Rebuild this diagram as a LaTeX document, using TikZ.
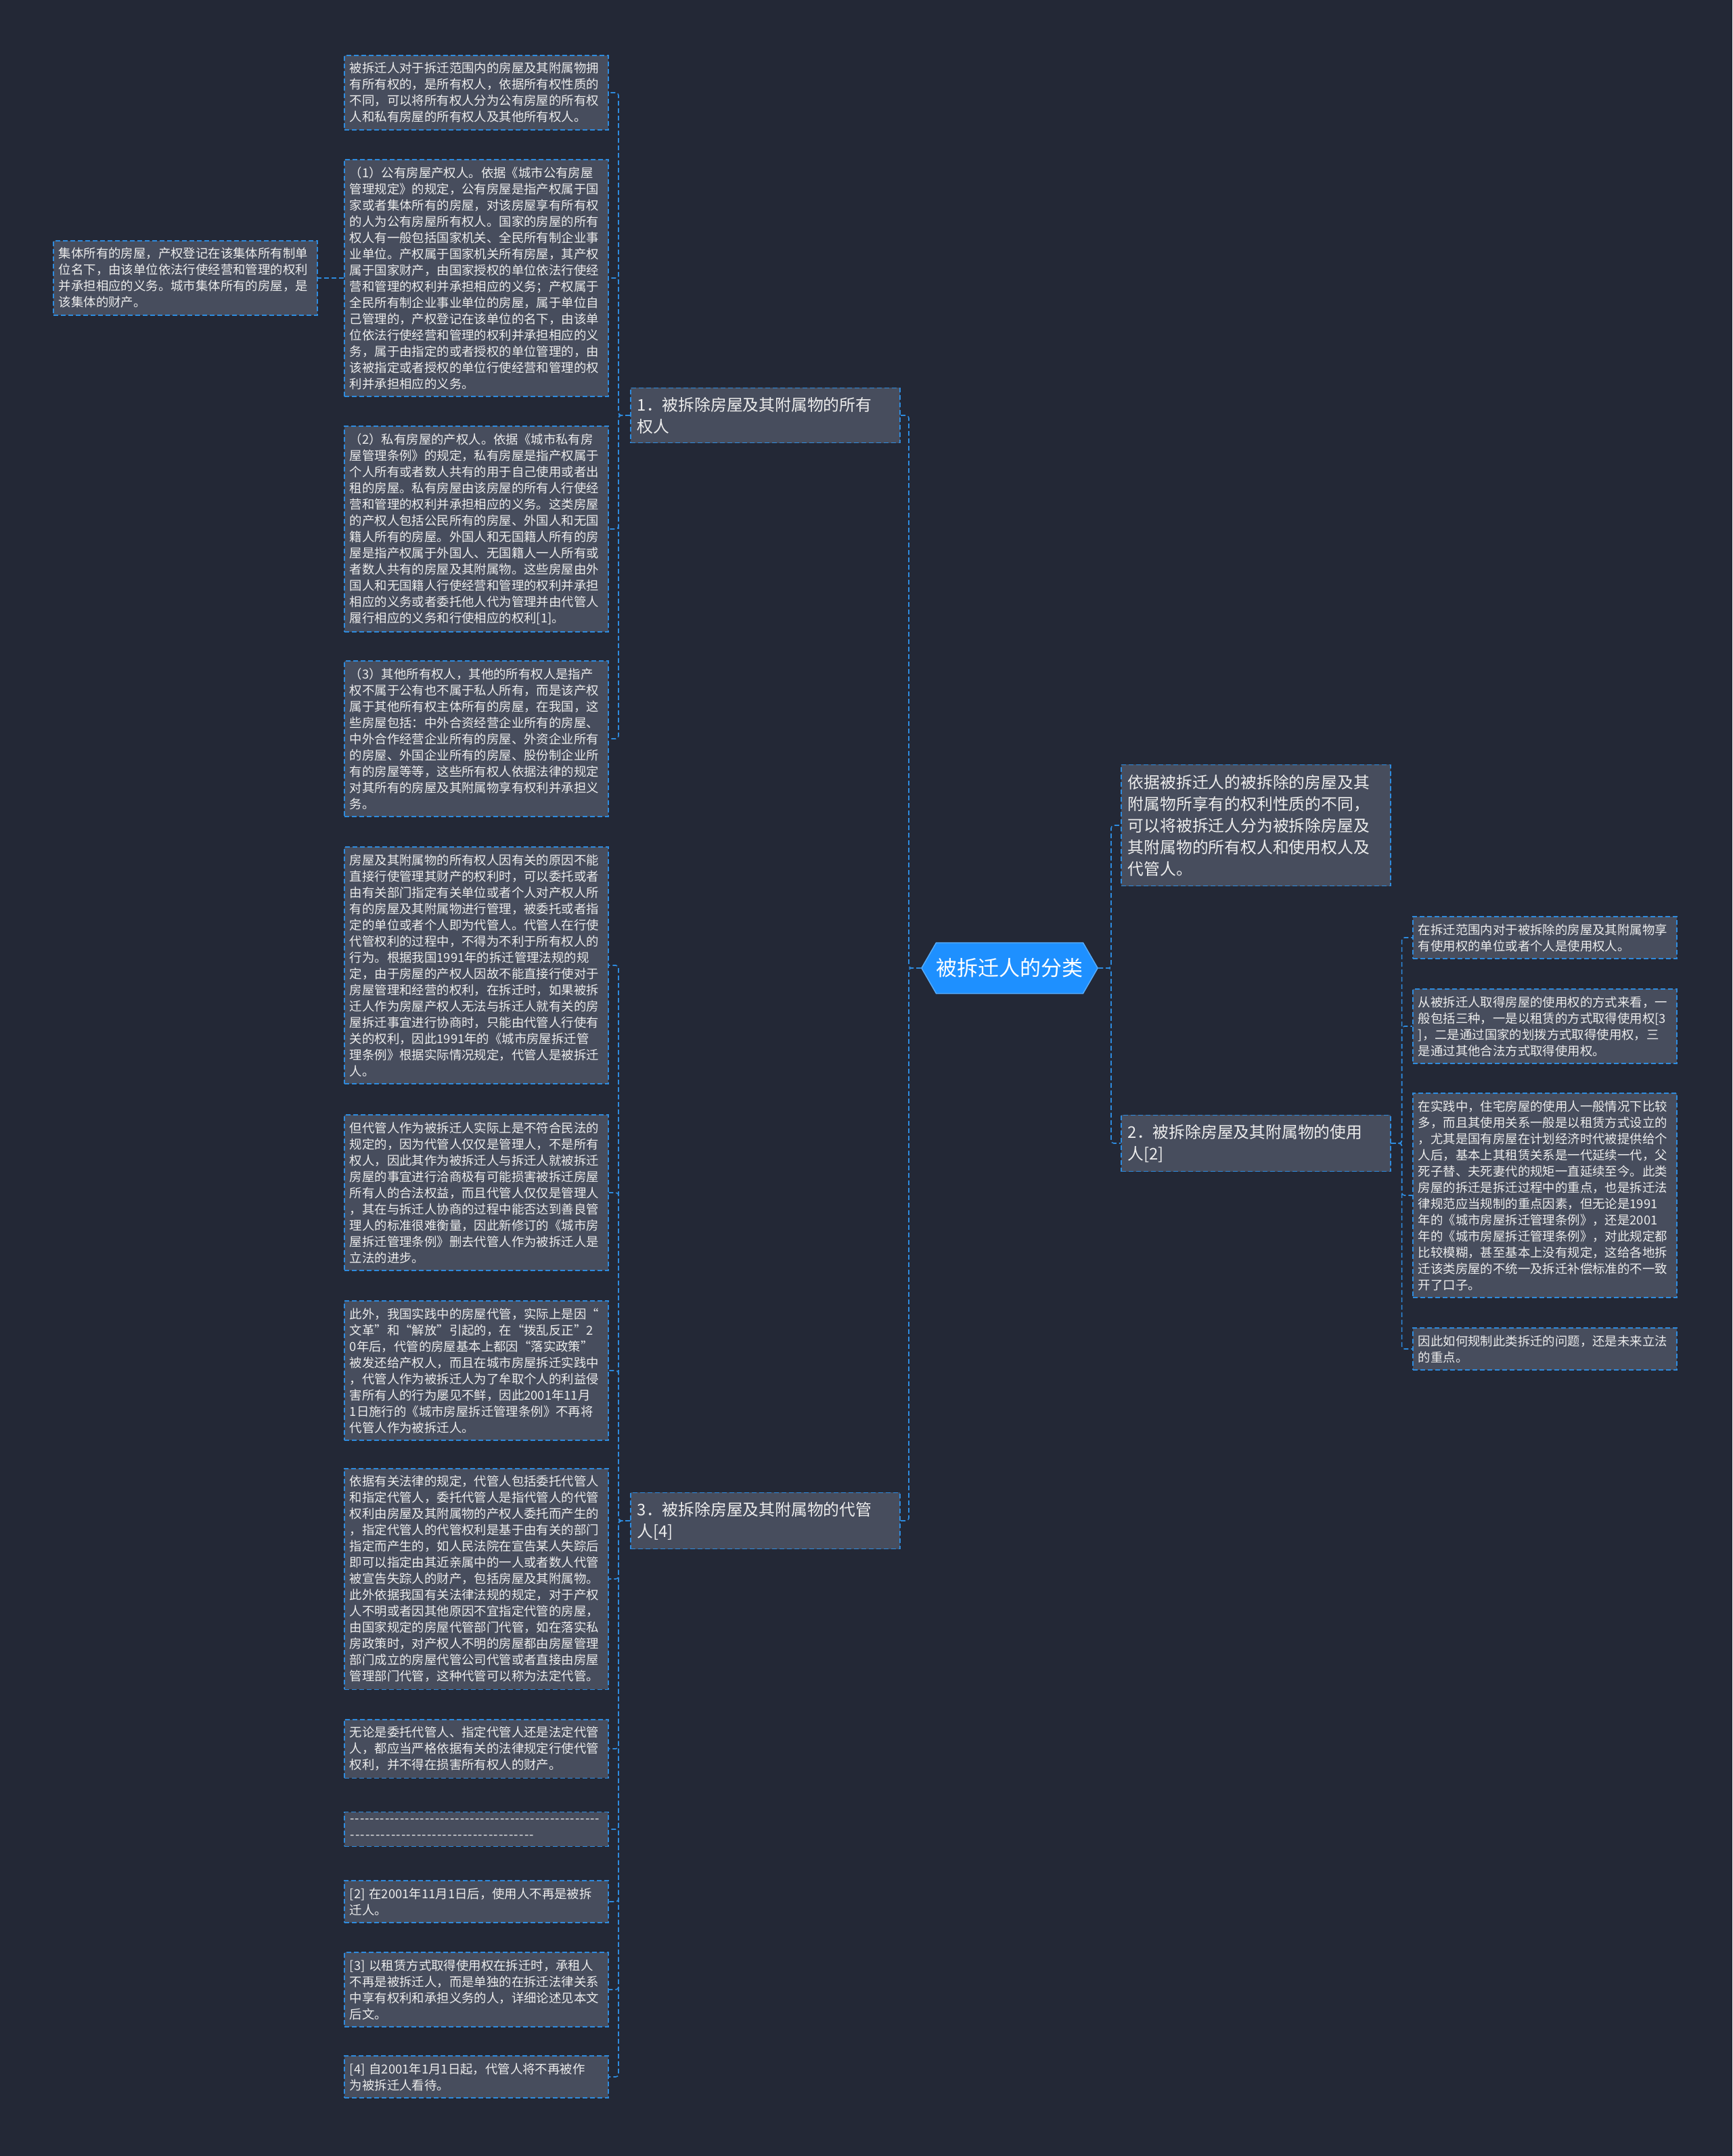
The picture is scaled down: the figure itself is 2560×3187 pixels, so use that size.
\documentclass[tikz,border=0pt]{standalone}
\usepackage{fontspec}
\setmainfont{Noto Sans CJK SC}
\usetikzlibrary{shapes.symbols}
\definecolor{bgnavy}{RGB}{35,40,54}
\definecolor{boxgray}{RGB}{71,77,93}
\definecolor{linkblue}{RGB}{46,139,222}
\definecolor{rootblue}{RGB}{30,144,255}
\definecolor{txtwhite}{RGB}{236,236,236}
\newcommand{\dashline}[1]{\hbox to #1{\xleaders\hbox to 7.4pt{\hss-\hss}\hfill}}
\begin{document}
\begin{tikzpicture}[x=1pt,y=-1pt,
    leaf/.style={draw=linkblue, dash pattern=on 7pt off 4pt, line width=1.6pt, fill=boxgray, text=txtwhite,
        anchor=west, align=left, text width=374pt, inner xsep=8pt, inner ysep=10.5pt, font=\fontsize{18.4}{24}\selectfont},
    topic/.style={draw=linkblue, dash pattern=on 7pt off 4pt, line width=1.6pt, fill=boxgray, text=txtwhite,
        anchor=west, align=left, text width=378pt, inner xsep=10pt, inner ysep=13.5pt, font=\fontsize{23.8}{32}\selectfont},
    root/.style={shape=signal, signal to=west and east, signal pointer angle=120, fill=rootblue, draw=rootblue!75!white,
        line width=1.5pt, text=white, minimum width=254pt, minimum height=75pt, inner sep=0pt, font=\fontsize{31}{36}\selectfont},
    link/.style={draw=linkblue, dash pattern=on 7pt off 4pt, line width=1.6pt, rounded corners=4pt}]
    \path[use as bounding box, fill=bgnavy] (0,0) rectangle (2560,3187);

    \node[root] (root) at (1492,1431) {被拆迁人的分类};

    \node[topic] (owner) at (931,614) {1．被拆除房屋及其附属物的所有\\权人};
    \node[topic] (agent) at (931,2248) {3．被拆除房屋及其附属物的代管\\人[4]};
    \node[topic, inner ysep=14.5pt] (basis) at (1656,1220) {依据被拆迁人的被拆除的房屋及其\\附属物所享有的权利性质的不同，\\可以将被拆迁人分为被拆除房屋及\\其附属物的所有权人和使用权人及\\代管人。};
    \node[topic] (user) at (1656,1690) {2．被拆除房屋及其附属物的使用\\人[2]};

    \node[leaf] (o1) at (508,137) {被拆迁人对于拆迁范围内的房屋及其附属物拥\\
        有所有权的，是所有权人，依据所有权性质的\\
        不同，可以将所有权人分为公有房屋的所有权\\
        人和私有房屋的所有权人及其他所有权人。};
    \node[leaf] (o2) at (508,411) {（1）公有房屋产权人。依据《城市公有房屋\\
        管理规定》的规定，公有房屋是指产权属于国\\
        家或者集体所有的房屋，对该房屋享有所有权\\
        的人为公有房屋所有权人。国家的房屋的所有\\
        权人有一般包括国家机关、全民所有制企业事\\
        业单位。产权属于国家机关所有房屋，其产权\\
        属于国家财产，由国家授权的单位依法行使经\\
        营和管理的权利并承担相应的义务；产权属于\\
        全民所有制企业事业单位的房屋，属于单位自\\
        己管理的，产权登记在该单位的名下，由该单\\
        位依法行使经营和管理的权利并承担相应的义\\
        务，属于由指定的或者授权的单位管理的，由\\
        该被指定或者授权的单位行使经营和管理的权\\
        利并承担相应的义务。};
    \node[leaf] (o2a) at (78,411) {集体所有的房屋，产权登记在该集体所有制单\\
        位名下，由该单位依法行使经营和管理的权利\\
        并承担相应的义务。城市集体所有的房屋，是\\
        该集体的财产。};
    \node[leaf] (o3) at (508,782) {（2）私有房屋的产权人。依据《城市私有房\\
        屋管理条例》的规定，私有房屋是指产权属于\\
        个人所有或者数人共有的用于自己使用或者出\\
        租的房屋。私有房屋由该房屋的所有人行使经\\
        营和管理的权利并承担相应的义务。这类房屋\\
        的产权人包括公民所有的房屋、外国人和无国\\
        籍人所有的房屋。外国人和无国籍人所有的房\\
        屋是指产权属于外国人、无国籍人一人所有或\\
        者数人共有的房屋及其附属物。这些房屋由外\\
        国人和无国籍人行使经营和管理的权利并承担\\
        相应的义务或者委托他人代为管理并由代管人\\
        履行相应的义务和行使相应的权利[1]。};
    \node[leaf] (o4) at (508,1092) {（3）其他所有权人，其他的所有权人是指产\\
        权不属于公有也不属于私人所有，而是该产权\\
        属于其他所有权主体所有的房屋，在我国，这\\
        些房屋包括：中外合资经营企业所有的房屋、\\
        中外合作经营企业所有的房屋、外资企业所有\\
        的房屋、外国企业所有的房屋、股份制企业所\\
        有的房屋等等，这些所有权人依据法律的规定\\
        对其所有的房屋及其附属物享有权利并承担义\\
        务。};

    \node[leaf] (a1) at (508,1427) {房屋及其附属物的所有权人因有关的原因不能\\
        直接行使管理其财产的权利时，可以委托或者\\
        由有关部门指定有关单位或者个人对产权人所\\
        有的房屋及其附属物进行管理，被委托或者指\\
        定的单位或者个人即为代管人。代管人在行使\\
        代管权利的过程中，不得为不利于所有权人的\\
        行为。根据我国1991年的拆迁管理法规的规\\
        定，由于房屋的产权人因故不能直接行使对于\\
        房屋管理和经营的权利，在拆迁时，如果被拆\\
        迁人作为房屋产权人无法与拆迁人就有关的房\\
        屋拆迁事宜进行协商时，只能由代管人行使有\\
        关的权利，因此1991年的《城市房屋拆迁管\\
        理条例》根据实际情况规定，代管人是被拆迁\\
        人。};
    \node[leaf] (a2) at (508,1763) {但代管人作为被拆迁人实际上是不符合民法的\\
        规定的，因为代管人仅仅是管理人，不是所有\\
        权人，因此其作为被拆迁人与拆迁人就被拆迁\\
        房屋的事宜进行洽商极有可能损害被拆迁房屋\\
        所有人的合法权益，而且代管人仅仅是管理人\\
        ，其在与拆迁人协商的过程中能否达到善良管\\
        理人的标准很难衡量，因此新修订的《城市房\\
        屋拆迁管理条例》删去代管人作为被拆迁人是\\
        立法的进步。};
    \node[leaf] (a3) at (508,2026) {此外，我国实践中的房屋代管，实际上是因“\\
        文革”和“解放”引起的，在“拨乱反正”2\\
        0年后，代管的房屋基本上都因“落实政策”\\
        被发还给产权人，而且在城市房屋拆迁实践中\\
        ，代管人作为被拆迁人为了牟取个人的利益侵\\
        害所有人的行为屡见不鲜，因此2001年11月\\
        1日施行的《城市房屋拆迁管理条例》不再将\\
        代管人作为被拆迁人。};
    \node[leaf] (a4) at (508,2334) {依据有关法律的规定，代管人包括委托代管人\\
        和指定代管人，委托代管人是指代管人的代管\\
        权利由房屋及其附属物的产权人委托而产生的\\
        ，指定代管人的代管权利是基于由有关的部门\\
        指定而产生的，如人民法院在宣告某人失踪后\\
        即可以指定由其近亲属中的一人或者数人代管\\
        被宣告失踪人的财产，包括房屋及其附属物。\\
        此外依据我国有关法律法规的规定，对于产权\\
        人不明或者因其他原因不宜指定代管的房屋，\\
        由国家规定的房屋代管部门代管，如在落实私\\
        房政策时，对产权人不明的房屋都由房屋管理\\
        部门成立的房屋代管公司代管或者直接由房屋\\
        管理部门代管，这种代管可以称为法定代管。};
    \node[leaf] (a5) at (508,2585) {无论是委托代管人、指定代管人还是法定代管\\
        人，都应当严格依据有关的法律规定行使代管\\
        权利，并不得在损害所有权人的财产。};
    \node[leaf] (a6) at (508,2704) {\dashline{370pt}\\ \dashline{273pt}};
    \node[leaf] (a7) at (508,2811) {[2] 在2001年11月1日后，使用人不再是被拆\\
        迁人。};
    \node[leaf] (a8) at (508,2941) {[3] 以租赁方式取得使用权在拆迁时，承租人\\
        不再是被拆迁人，而是单独的在拆迁法律关系\\
        中享有权利和承担义务的人，详细论述见本文\\
        后文。};
    \node[leaf] (a9) at (508,3070) {[4] 自2001年1月1日起，代管人将不再被作\\
        为被拆迁人看待。};

    \node[leaf] (u1) at (2087,1386) {在拆迁范围内对于被拆除的房屋及其附属物享\\
        有使用权的单位或者个人是使用权人。};
    \node[leaf] (u2) at (2087,1517) {从被拆迁人取得房屋的使用权的方式来看，一\\
        般包括三种，一是以租赁的方式取得使用权[3\\
        ]，二是通过国家的划拨方式取得使用权，三\\
        是通过其他合法方式取得使用权。};
    \node[leaf] (u3) at (2087,1767) {在实践中，住宅房屋的使用人一般情况下比较\\
        多，而且其使用关系一般是以租赁方式设立的\\
        ，尤其是国有房屋在计划经济时代被提供给个\\
        人后，基本上其租赁关系是一代延续一代，父\\
        死子替、夫死妻代的规矩一直延续至今。此类\\
        房屋的拆迁是拆迁过程中的重点，也是拆迁法\\
        律规范应当规制的重点因素，但无论是1991\\
        年的《城市房屋拆迁管理条例》，还是2001\\
        年的《城市房屋拆迁管理条例》，对此规定都\\
        比较模糊，甚至基本上没有规定，这给各地拆\\
        迁该类房屋的不统一及拆迁补偿标准的不一致\\
        开了口子。};
    \node[leaf] (u4) at (2087,1994) {因此如何规制此类拆迁的问题，还是未来立法\\
        的重点。};

    \draw[link] (root.west) -- ++(-18,0) |- (owner.east);
    \draw[link] (root.west) -- ++(-18,0) |- (agent.east);
    \draw[link] (root.east) -- ++(19,0) |- (basis.west);
    \draw[link] (root.east) -- ++(19,0) |- (user.west);
    \foreach \leafname in {o1,o2,o3,o4}
        \draw[link] (owner.west) -- ++(-17,0) |- (\leafname.east);
    \draw[link] (o2.west) -- (o2a.east);
    \foreach \leafname in {a1,a2,a3,a4,a5,a6,a7,a8,a9}
        \draw[link] (agent.west) -- ++(-17,0) |- (\leafname.east);
    \foreach \leafname in {u1,u2,u3,u4}
        \draw[link] (user.east) -- ++(16,0) |- (\leafname.west);
\end{tikzpicture}
\end{document}
